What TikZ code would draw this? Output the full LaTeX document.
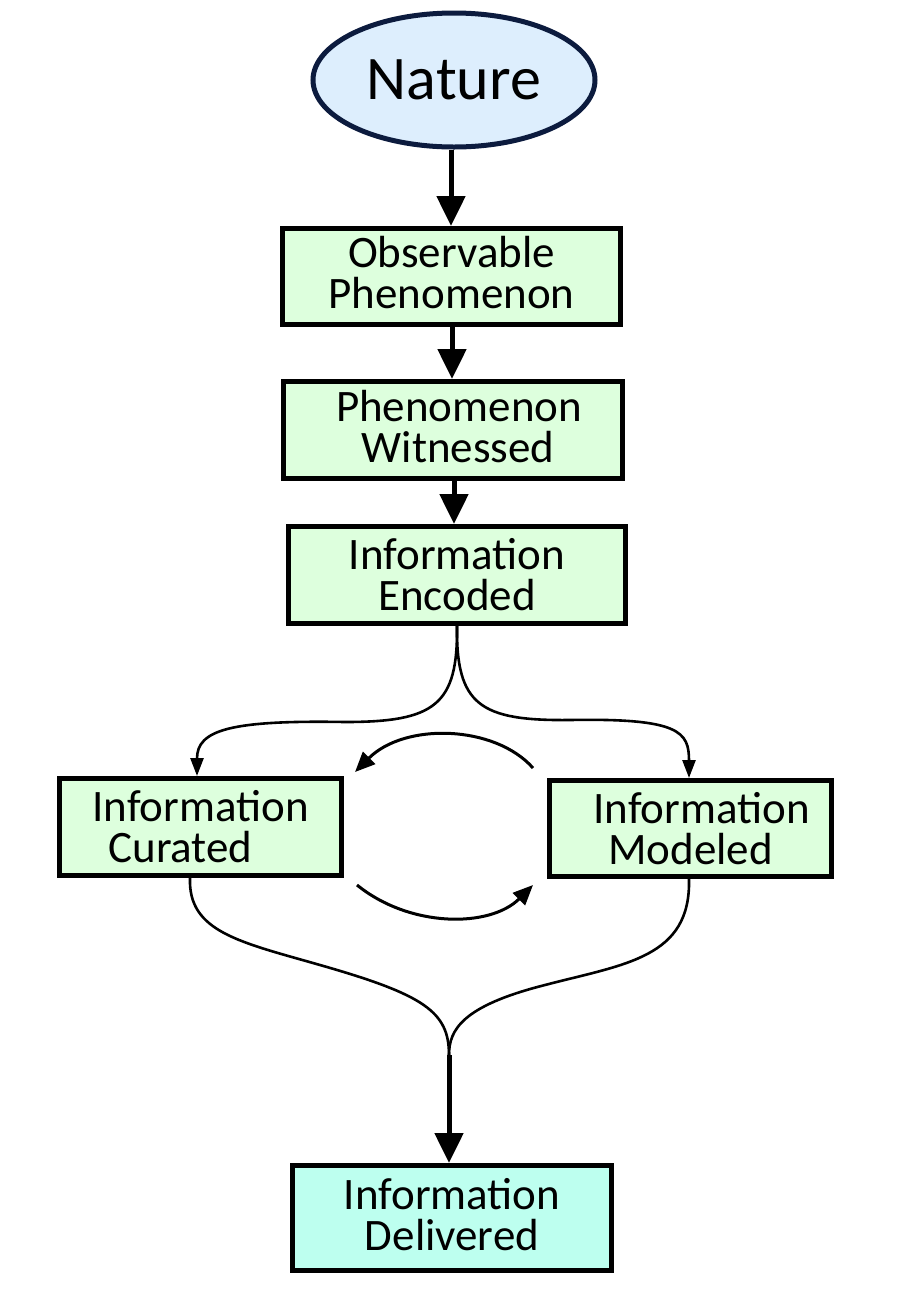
\documentclass[tikz,border=0pt]{standalone}
\usepackage{fontspec}
\setmainfont{Carlito}
\usetikzlibrary{shapes.geometric,arrows.meta}
\definecolor{boxgreen}{HTML}{DDFFDD}
\definecolor{natblue}{HTML}{DDEEFD}
\definecolor{natedge}{HTML}{0C1B3E}
\definecolor{delcyan}{HTML}{BDFFEF}
\tikzset{
  stagebox/.style={draw=black,line width=5pt,fill=boxgreen,rectangle,inner sep=0pt,
    align=center,font=\fontsize{45}{41}\selectfont},
  bigarrow/.style={line width=5pt,-{Triangle[length=30pt,width=28pt]}},
  thinarrow/.style={line width=2.6pt,-{Triangle[length=18pt,width=13pt]}},
  thinline/.style={line width=2.6pt},
  cyclearrow/.style={line width=3pt,-{Triangle[length=20pt,width=17pt]}}
}
\begin{document}
\begin{tikzpicture}[x=1pt,y=-1pt]
\useasboundingbox (0,0) rectangle (900,1310);
\node[ellipse,draw=natedge,line width=5pt,fill=natblue,minimum width=282pt,minimum height=134pt,
  inner sep=0pt,font=\fontsize{62}{62}\selectfont] (nat) at (454,80) {Nature};
\node[stagebox,text depth=8pt,minimum width=338pt,minimum height=96pt] (obs) at (451.5,276.5) {Observable\\Phenomenon};
\node[stagebox,text depth=8pt,minimum width=339pt,minimum height=97pt] (wit) at (453,430) {\hspace*{12pt}Phenomenon\\\hspace*{10pt}Witnessed};
\node[stagebox,minimum width=337pt,minimum height=97pt] (enc) at (457,575) {Information\\Encoded};
\node[stagebox,minimum width=282pt,minimum height=97pt] (cur) at (200.5,827) {Information\\Curated\hspace*{40pt}};
\node[stagebox,minimum width=282pt,minimum height=96pt] (mod) at (690.5,828.5) {\hspace*{22pt}Information\\Modeled};
\node[stagebox,text depth=8pt,fill=delcyan,minimum width=319pt,minimum height=105pt] (del) at (452,1218) {Information\\Delivered};

\draw[bigarrow] ([xshift=-3]nat.south) -- ([xshift=-0.5]obs.north);
\draw[bigarrow] ([xshift=0.5]obs.south) -- ([xshift=-1]wit.north);
\draw[bigarrow] ([xshift=1]wit.south) -- ([xshift=-3]enc.north);

\draw[thinarrow] (enc.south) .. controls (458,705) and (435,722) .. (345,722)
  .. controls (230,720) and (197,730) .. ([xshift=-3.5]cur.north);
\draw[thinarrow] (enc.south) .. controls (456,705) and (480,721) .. (570,720)
  .. controls (680,718) and (689,732) .. ([xshift=-1.5]mod.north);

\coordinate (ua) at (533,768);
\coordinate (ub) at (355,772);
\coordinate (la) at (357,885);
\coordinate (lb) at (533,885);
\draw[cyclearrow] (ua) .. controls (495,725) and (405,722) .. (ub);
\draw[cyclearrow] (la) .. controls (410,928) and (490,928) .. (lb);

\coordinate (merge) at (449,1055);
\draw[thinline] ([xshift=-10.5]cur.south) .. controls (188,932) and (240,942) .. (320,965)
  .. controls (425,995) and (449,1012) .. (merge);
\draw[thinline] ([xshift=-1.5]mod.south) .. controls (691,958) and (625,964) .. (545,985)
  .. controls (462,1006) and (449,1030) .. (merge);
\draw[bigarrow] (merge) -- ([xshift=-3]del.north);
\end{tikzpicture}
\end{document}
